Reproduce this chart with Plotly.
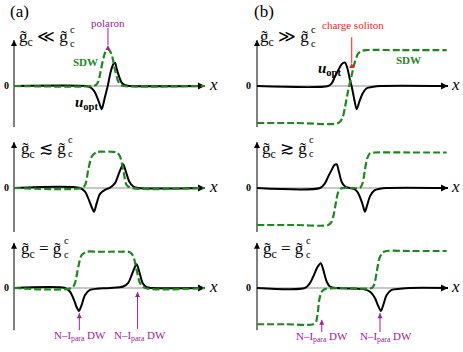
import plotly.graph_objects as go

# ---------------- data ----------------
# x: position along the chain (0 = axis origin, 10 = arrow tip)
# y: amplitude (1 = SDW saturation level)

# (a) row 1 : g_c << g_c^c
a1_uopt_x = [0.0, 3.77, 3.98, 4.19, 4.41, 4.53, 4.59, 4.66, 4.76, 4.92, 5.06, 5.19, 5.29, 5.37, 5.46, 5.63, 5.81, 6.1, 10.0]
a1_uopt_y = [0.0, 0.0, -0.03, -0.13, -0.38, -0.56, -0.63, -0.52, -0.3, 0.03, 0.38, 0.58, 0.63, 0.48, 0.32, 0.1, 0.02, 0.0, 0.0]
a1_sdw_x = [0.0, 4.14, 4.3, 4.41, 4.53, 4.68, 4.79, 4.88, 5.0, 5.12, 5.29, 5.46, 5.6, 5.76, 10.0]
a1_sdw_y = [0.0, 0.0, 0.03, 0.12, 0.38, 0.75, 0.93, 1.0, 0.96, 0.84, 0.43, 0.12, 0.03, 0.0, 0.0]

# (a) row 2 : g_c <~ g_c^c
a2_uopt_x = [0.0, 3.46, 3.72, 3.89, 4.07, 4.19, 4.33, 4.5, 4.76, 5.03, 5.29, 5.46, 5.6, 5.72, 5.86, 6.04, 6.25, 6.51, 10.0]
a2_uopt_y = [0.0, 0.0, -0.1, -0.28, -0.52, -0.64, -0.41, -0.16, -0.05, 0.01, 0.13, 0.35, 0.53, 0.64, 0.44, 0.17, 0.04, 0.0, 0.0]
a2_sdw_x = [0.0, 3.54, 3.72, 3.89, 4.07, 4.33, 4.7, 5.1, 5.38, 5.55, 5.72, 5.9, 6.16, 10.0]
a2_sdw_y = [0.0, 0.0, 0.08, 0.49, 0.85, 0.97, 0.98, 0.98, 0.96, 0.85, 0.49, 0.08, 0.0, 0.0]

# (a) row 3 : g_c = g_c^c
a3_uopt_x = [0.0, 2.67, 2.93, 3.14, 3.28, 3.4, 3.54, 3.72, 3.98, 4.33, 5.03, 5.72, 5.98, 6.16, 6.3, 6.42, 6.56, 6.74, 6.95, 7.21, 10.0]
a3_uopt_y = [0.0, 0.0, -0.1, -0.32, -0.52, -0.62, -0.46, -0.19, -0.05, -0.02, 0.0, 0.04, 0.14, 0.35, 0.53, 0.64, 0.44, 0.13, 0.02, 0.0, 0.0]
a3_sdw_x = [0.0, 3.02, 3.19, 3.37, 3.54, 3.81, 4.4, 5.0, 5.6, 6.07, 6.25, 6.42, 6.6, 6.86, 10.0]
a3_sdw_y = [0.0, 0.0, 0.13, 0.58, 0.89, 0.98, 0.98, 0.98, 0.98, 0.97, 0.85, 0.49, 0.13, 0.0, 0.0]

# (b) row 1 : g_c >> g_c^c
b1_uopt_x = [0.0, 3.73, 3.91, 4.08, 4.26, 4.43, 4.61, 4.73, 4.87, 4.96, 5.08, 5.22, 5.36, 5.53, 5.74, 6.09, 6.44, 10.0]
b1_uopt_y = [0.0, 0.0, 0.07, 0.25, 0.43, 0.59, 0.63, 0.48, 0.16, -0.02, -0.33, -0.63, -0.42, -0.2, -0.06, -0.02, 0.0, 0.0]
b1_sdw_x = [0.0, 2.0, 4.26, 4.47, 4.61, 4.78, 4.96, 5.13, 5.3, 5.48, 5.74, 7.5, 9.93]
b1_sdw_y = [-1.0, -1.0, -1.0, -0.87, -0.56, -0.11, 0.3, 0.66, 0.88, 0.95, 0.97, 0.97, 0.97]

# (b) row 2 : g_c >~ g_c^c
b2_uopt_x = [0.0, 3.3, 3.56, 3.73, 3.91, 4.05, 4.17, 4.29, 4.43, 4.61, 4.87, 5.13, 5.3, 5.48, 5.57, 5.65, 5.77, 5.92, 6.13, 6.44, 6.79, 10.0]
b2_uopt_y = [0.0, 0.0, 0.13, 0.31, 0.49, 0.62, 0.64, 0.44, 0.17, 0.04, 0.0, -0.04, -0.14, -0.37, -0.52, -0.64, -0.46, -0.22, -0.07, -0.02, 0.0, 0.0]
b2_sdw_x = [0.0, 2.0, 3.73, 3.91, 4.03, 4.14, 4.26, 4.43, 4.9, 5.39, 5.53, 5.65, 5.77, 5.92, 6.18, 8.0, 9.93]
b2_sdw_y = [-1.0, -1.0, -1.0, -0.91, -0.68, -0.37, -0.1, -0.01, 0.0, 0.0, 0.13, 0.49, 0.8, 0.94, 0.96, 0.96, 0.96]

# (b) row 3 : g_c = g_c^c
b3_uopt_x = [0.0, 2.51, 2.77, 2.98, 3.16, 3.34, 3.47, 3.65, 3.82, 4.17, 5.57, 5.92, 6.18, 6.35, 6.49, 6.61, 6.79, 7.05, 7.49, 8.01, 10.0]
b3_uopt_y = [0.0, 0.0, 0.13, 0.35, 0.56, 0.67, 0.49, 0.17, 0.04, 0.0, -0.03, -0.1, -0.28, -0.49, -0.62, -0.46, -0.19, -0.05, -0.02, 0.0, 0.0]
b3_sdw_x = [0.0, 1.5, 2.95, 3.09, 3.18, 3.26, 3.39, 3.56, 4.5, 6.01, 6.13, 6.27, 6.41, 6.58, 6.79, 8.0, 9.93]
b3_sdw_y = [-0.98, -0.98, -0.98, -0.91, -0.68, -0.32, -0.1, -0.03, 0.0, 0.0, 0.08, 0.44, 0.8, 0.96, 1.0, 1.0, 1.0]

# row labels: "g~_c  REL  g~_c^c"  (the stacked ^c/_c is drawn as its own two-line text)
row_labels = {
    "a1": "g\u0303<sub>c</sub> \u226a g\u0303",
    "a2": "g\u0303<sub>c</sub> \u2272 g\u0303",
    "a3": "g\u0303<sub>c</sub> = g\u0303",
    "b1": "g\u0303<sub>c</sub> \u226b g\u0303",
    "b2": "g\u0303<sub>c</sub> \u2273 g\u0303",
    "b3": "g\u0303<sub>c</sub> = g\u0303",
}
stacked_scripts = "c<br>c"
panel_titles = ["(a)", "(b)"]
dw_label = "N\u2013I<sub>para</sub> DW"

# ---------------- layout geometry (pixels) ----------------
W, H = 463, 352
PX_X = 19.1   # pixels per x unit
PX_Y = 37.0   # pixels per y unit
cols = {"a": (0, 231, 14), "b": (231, 463, 257)}        # band left, band right, origin
rows = {1: (0, 130, 86), 2: (130, 236, 188), 3: (236, 352, 288)}  # band top, band bottom, zero
axis_top = {1: 1.24, 2: 1.24, 3: 1.22}
axis_bot = {1: -1.11, 2: -1.19, 3: -1.14}
label_y = {1: 1.30, 2: 1.03, 3: 1.03}
script_y = {1: 1.33, 2: 1.11, 3: 1.10}
# pixel x where the row label's last g~ ends (label right-anchored there, scripts start there)
label_end_px = {"a1": 69, "a2": 67, "a3": 63, "b1": 310, "b2": 308, "b3": 305}

panels = [
    ("a", 1, a1_uopt_x, a1_uopt_y, a1_sdw_x, a1_sdw_y),
    ("b", 1, b1_uopt_x, b1_uopt_y, b1_sdw_x, b1_sdw_y),
    ("a", 2, a2_uopt_x, a2_uopt_y, a2_sdw_x, a2_sdw_y),
    ("b", 2, b2_uopt_x, b2_uopt_y, b2_sdw_x, b2_sdw_y),
    ("a", 3, a3_uopt_x, a3_uopt_y, a3_sdw_x, a3_sdw_y),
    ("b", 3, b3_uopt_x, b3_uopt_y, b3_sdw_x, b3_sdw_y),
]

GREEN = "#1b8a1b"
PURPLE = "#a020a0"
RED = "#ff1a1a"
SERIF = "Liberation Serif, Times New Roman, serif"

fig = go.Figure()
layout = dict(width=W, height=H, margin=dict(l=0, r=0, t=0, b=0),
              paper_bgcolor="white", plot_bgcolor="rgba(0,0,0,0)", showlegend=False)
annotations = []
axid = {}


def arrow_traces(x, y0, y1, xr, yr, color, width=1, head=6, symbol="arrow-up"):
    """shaft + arrowhead marker (tip at the end point)"""
    return [
        go.Scatter(x=[x, x], y=[y0, y1], mode="lines", xaxis=xr, yaxis=yr,
                   line=dict(color=color, width=width), hoverinfo="skip"),
        go.Scatter(x=[x], y=[y1], mode="markers", xaxis=xr, yaxis=yr,
                   marker=dict(symbol=symbol, size=head, color=color, line=dict(width=0)),
                   hoverinfo="skip"),
    ]


for k, (c, r, ux, uy, sx, sy) in enumerate(panels, start=1):
    c0, c1, org = cols[c]
    r0, r1, zero = rows[r]
    xa = "xaxis" if k == 1 else f"xaxis{k}"
    ya = "yaxis" if k == 1 else f"yaxis{k}"
    xr = "x" if k == 1 else f"x{k}"
    yr = "y" if k == 1 else f"y{k}"
    axid[(c, r)] = (xr, yr)
    layout[xa] = dict(domain=[c0 / W, c1 / W], range=[(c0 - org) / PX_X, (c1 - org) / PX_X],
                      visible=False, fixedrange=True, anchor=yr)
    layout[ya] = dict(domain=[1 - r1 / H, 1 - r0 / H], range=[-(r1 - zero) / PX_Y, (zero - r0) / PX_Y],
                      visible=False, fixedrange=True, anchor=xr)
    # y axis with arrow
    for t in arrow_traces(0, axis_bot[r], axis_top[r], xr, yr, "black", width=1, head=6):
        fig.add_trace(t)
    # grey baseline (x axis)
    fig.add_trace(go.Scatter(x=[0, 10], y=[0, 0], mode="lines", xaxis=xr, yaxis=yr,
                             line=dict(color="#b5b5b5", width=1.3), hoverinfo="skip"))
    # u_opt
    fig.add_trace(go.Scatter(x=ux, y=uy, mode="lines", xaxis=xr, yaxis=yr,
                             line=dict(color="black", width=2, shape="spline", smoothing=0.8),
                             name="u_opt"))
    # x axis arrow head
    fig.add_trace(go.Scatter(x=[10], y=[0], mode="markers", xaxis=xr, yaxis=yr,
                             marker=dict(symbol="arrow-right", size=7, color="black", line=dict(width=0)),
                             hoverinfo="skip"))
    # SDW
    fig.add_trace(go.Scatter(x=sx, y=sy, mode="lines", xaxis=xr, yaxis=yr,
                             line=dict(color=GREEN, width=2.2, dash="7px,3px", shape="spline", smoothing=0.8),
                             name="SDW"))
    # x label
    annotations.append(dict(x=10.42 if c == "a" else 10.4, y=0.04, xref=xr, yref=yr, text="<i>x</i>",
                            showarrow=False, font=dict(family=SERIF, size=17, color="black"),
                            xanchor="center", yanchor="middle"))
    # zero label
    annotations.append(dict(x=-0.39 if c == "a" else -0.42, y=0.02, xref=xr, yref=yr, text="<b>0</b>",
                            showarrow=False, font=dict(family=SERIF, size=10, color="black"),
                            xanchor="center", yanchor="middle"))
    # row label + stacked super/sub script "c"
    xe = (label_end_px[f"{c}{r}"] - org) / PX_X
    annotations.append(dict(x=xe, y=label_y[r], xref=xr, yref=yr, text=row_labels[f"{c}{r}"],
                            showarrow=False, borderpad=0, font=dict(family=SERIF, size=17, color="black"),
                            xanchor="right", yanchor="middle"))
    annotations.append(dict(x=xe, y=script_y[r], xref=xr, yref=yr,
                            text=stacked_scripts, showarrow=False, borderpad=0,
                            font=dict(family=SERIF, size=10.5, color="black"),
                            xanchor="left", yanchor="middle"))

# panel titles
for t, px in zip(panel_titles, [8, 252]):
    annotations.append(dict(x=px / W, y=1 - 11 / H, xref="paper", yref="paper", text=t, showarrow=False,
                            font=dict(family=SERIF, size=17, color="black"), xanchor="left", yanchor="middle"))

xa1, ya1 = axid[("a", 1)]
xb1, yb1 = axid[("b", 1)]
xa3, ya3 = axid[("a", 3)]
xb3, yb3 = axid[("b", 3)]


def label(x, y, text, xr, yr, color, size=11):
    return dict(x=x, y=y, xref=xr, yref=yr, text=text, showarrow=False,
                font=dict(family=SERIF, size=size, color=color), xanchor="center", yanchor="middle")


annotations += [
    label(4.92, 1.70, "polaron", xa1, ya1, PURPLE),
    label(3.74, 0.65, "<b>SDW</b>", xa1, ya1, GREEN),
    label(3.77, -0.46, "<b><i>u</i><sub>opt</sub></b>", xa1, ya1, "black", 15),
    label(5.03, 1.65, "charge soliton", xb1, yb1, RED),
    label(7.91, 0.70, "<b>SDW</b>", xb1, yb1, GREEN),
    label(3.80, 0.45, "<b><i>u</i><sub>opt</sub></b>", xb1, yb1, "black", 15),
    label(3.46, -1.30, dw_label, xa3, ya3, PURPLE),
    label(6.60, -1.30, dw_label, xa3, ya3, PURPLE),
    label(3.40, -1.32, dw_label, xb3, yb3, PURPLE),
    label(6.75, -1.32, dw_label, xb3, yb3, PURPLE),
]

pointer_arrows = [
    (4.92, 1.57, 1.11, xa1, ya1, PURPLE),
    (4.96, 1.32, 0.62, xb1, yb1, RED),
    (3.42, -1.14, -0.68, xa3, ya3, PURPLE),
    (6.47, -1.11, -0.11, xa3, ya3, PURPLE),
    (3.39, -1.19, -0.86, xb3, yb3, PURPLE),
    (6.44, -1.19, -0.68, xb3, yb3, PURPLE),
]
for x, y0, y1, xr, yr, col in pointer_arrows:
    for t in arrow_traces(x, y0, y1, xr, yr, col, width=1, head=5):
        fig.add_trace(t)

layout["annotations"] = annotations
fig.update_layout(**layout)
fig.write_html("out.html", config={"displayModeBar": False},
               post_script="document.body.style.margin='0';")
